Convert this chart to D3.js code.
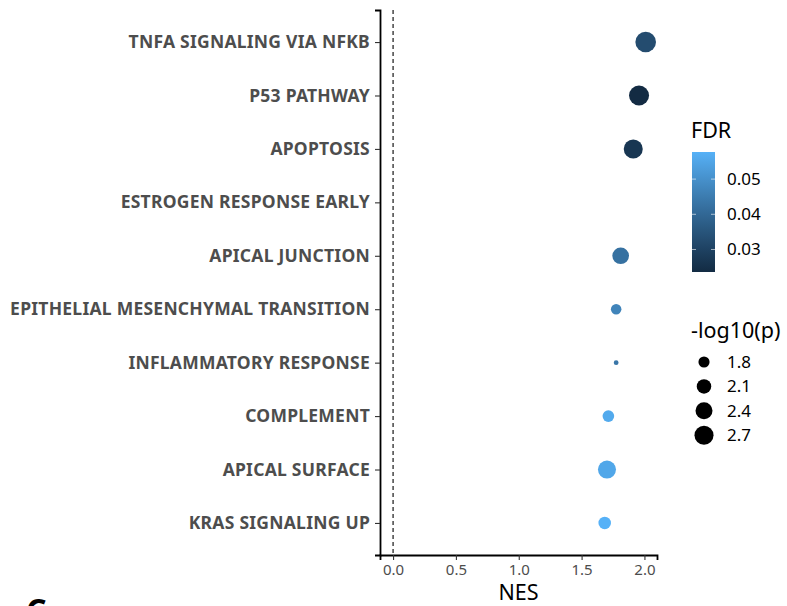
<!DOCTYPE html>
<html>
<head>
<meta charset="utf-8">
<script src="https://cdn.jsdelivr.net/npm/d3@7"></script>
<style>
  body { margin: 0; background: #fff; }
  svg { font-family: "Noto Sans", "Open Sans", sans-serif; }
</style>
</head>
<body>
<svg width="787" height="606"></svg>
<script>
var pathways = ["TNFA SIGNALING VIA NFKB", "P53 PATHWAY", "APOPTOSIS", "ESTROGEN RESPONSE EARLY",
  "APICAL JUNCTION", "EPITHELIAL MESENCHYMAL TRANSITION", "INFLAMMATORY RESPONSE",
  "COMPLEMENT", "APICAL SURFACE", "KRAS SIGNALING UP"];
var nes    = [2.01, 1.957, 1.911, null, 1.811, 1.775, 1.775, 1.713, 1.702, 1.684];
var fdr    = [0.0328, 0.0236, 0.0267, null, 0.0424, 0.047, 0.0437, 0.056, 0.0553, 0.0577];
var logp   = [2.96, 2.86, 2.70, null, 2.36, 1.76, 1.58, 1.84, 2.55, 1.91];
var xTicks = [0, 0.5, 1, 1.5, 2];
var fdrTicks = [0.03, 0.04, 0.05];
var sizeBreaks = [1.8, 2.1, 2.4, 2.7];

var svg = d3.select("svg");
var pLeft = 380, pRight = 657, pTop = 10, pBottom = 555;

var x = d3.scaleLinear().domain([-0.104, 2.1]).range([pLeft, pRight]);
var y = d3.scalePoint().domain(pathways).range([pTop, pBottom]).padding(0.6);

var fdrExtent = d3.extent(fdr.filter(function(d) { return d != null; }));
var color = d3.scaleLinear().domain(fdrExtent).range(["#132B43", "#56B1F7"])
    .interpolate(d3.interpolateLab);

var logpExtent = [1.58, 2.96];
var rescale = d3.scaleLinear().domain(logpExtent).range([0, 1]).clamp(true);
var rRange = d3.scaleLinear().domain([0, 1]).range([2.4, 10.3]);
var radius = function(v) { return rRange(Math.sqrt(rescale(v))); };

var rows = pathways.map(function(p, i) {
  return { id: p, nes: nes[i], fdr: fdr[i], logp: logp[i] };
});

// dashed zero line
svg.append("line")
    .attr("x1", x(0)).attr("x2", x(0))
    .attr("y1", pTop).attr("y2", pBottom)
    .attr("stroke", "#000").attr("stroke-width", 1.1)
    .attr("stroke-dasharray", "4,3");

// points
svg.append("g").selectAll("circle")
  .data(rows.filter(function(d) { return d.nes != null; }))
  .enter().append("circle")
    .attr("cx", function(d) { return x(d.nes); })
    .attr("cy", function(d) { return y(d.id); })
    .attr("r", function(d) { return radius(d.logp); })
    .attr("fill", function(d) { return color(d.fdr); });

// x axis
var xAxis = svg.append("g")
    .attr("transform", "translate(0," + pBottom + ")")
    .call(d3.axisBottom(x).tickValues(xTicks).tickFormat(d3.format(".1f")).tickSizeOuter(0).tickSize(5).tickPadding(4));
xAxis.select(".domain").attr("stroke", "#000").attr("stroke-width", 1.8);
xAxis.selectAll(".tick line").attr("stroke", "#333").attr("stroke-width", 1.1);
xAxis.selectAll(".tick text").attr("fill", "#4d4d4d").attr("font-size", 15).attr("font-family", "Noto Sans");

// y axis
var yAxis = svg.append("g")
    .attr("transform", "translate(" + pLeft + ",0)")
    .call(d3.axisLeft(y).tickSizeOuter(0).tickSize(5).tickPadding(5));
yAxis.select(".domain").attr("stroke", "#000").attr("stroke-width", 1.8);
yAxis.selectAll(".tick line").attr("stroke", "#333").attr("stroke-width", 1.1);
yAxis.selectAll(".tick text").attr("fill", "#4d4d4d").attr("font-size", 17.5)
    .attr("letter-spacing", 0.25)
    .attr("font-weight", "bold").attr("font-family", "Noto Sans");

svg.append("text")
    .attr("x", (pLeft + pRight) / 2).attr("y", 600)
    .attr("text-anchor", "middle").attr("font-size", 21.5).attr("fill", "#000")
    .text("NES");

// FDR colour bar
var barX = 692, barW = 23, barTop = 152, barBottom = 272;
var fdrY = d3.scaleLinear().domain(fdrExtent).range([barBottom, barTop]);
var defs = svg.append("defs");
var grad = defs.append("linearGradient").attr("id", "fdrgrad")
    .attr("x1", 0).attr("y1", 1).attr("x2", 0).attr("y2", 0);
d3.range(0, 1.001, 0.1).forEach(function(t) {
  grad.append("stop").attr("offset", t)
      .attr("stop-color", color(fdrExtent[0] + t * (fdrExtent[1] - fdrExtent[0])));
});
svg.append("text").attr("x", barX - 1).attr("y", 138)
    .attr("font-size", 21.5).attr("fill", "#000").text("FDR");
svg.append("rect").attr("x", barX).attr("y", barTop)
    .attr("width", barW).attr("height", barBottom - barTop)
    .attr("fill", "url(#fdrgrad)");
var ct = svg.append("g").selectAll("g").data(fdrTicks).enter().append("g");
ct.append("line").attr("x1", barX).attr("x2", barX + 4)
    .attr("y1", function(d) { return fdrY(d); }).attr("y2", function(d) { return fdrY(d); })
    .attr("stroke", "#fff").attr("stroke-opacity", 0.6);
ct.append("line").attr("x1", barX + barW - 4).attr("x2", barX + barW)
    .attr("y1", function(d) { return fdrY(d); }).attr("y2", function(d) { return fdrY(d); })
    .attr("stroke", "#fff").attr("stroke-opacity", 0.6);
ct.append("text").attr("x", barX + 35).attr("y", function(d) { return fdrY(d); })
    .attr("dy", "0.35em").attr("font-size", 17).attr("fill", "#000")
    .text(function(d) { return d3.format(".2f")(d); });

// size legend
svg.append("text").attr("x", barX - 1).attr("y", 338)
    .attr("font-size", 21.5).attr("fill", "#000").text("-log10(p)");
var sl = svg.append("g").selectAll("g").data(sizeBreaks).enter().append("g")
    .attr("transform", function(d, i) { return "translate(0," + (362 + i * 24.4) + ")"; });
sl.append("circle").attr("cx", 704).attr("cy", 0)
    .attr("r", function(d) { return radius(d); }).attr("fill", "#000");
sl.append("text").attr("x", barX + 35).attr("y", 0).attr("dy", "0.35em")
    .attr("font-size", 17).attr("fill", "#000").text(function(d) { return d3.format(".1f")(d); });

// next panel label, cut off at bottom
svg.append("text").attr("x", 26).attr("y", 622)
    .attr("font-size", 32).attr("font-weight", "bold").attr("fill", "#000").text("C");
</script>
</body>
</html>
